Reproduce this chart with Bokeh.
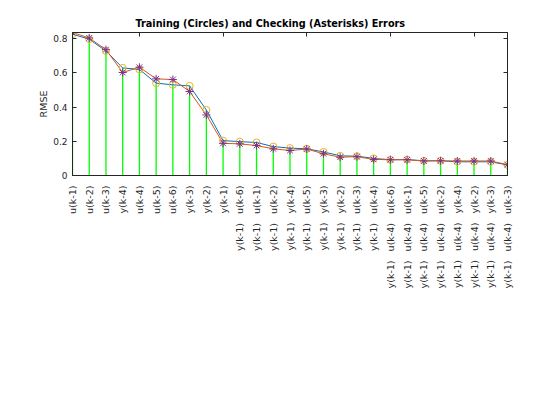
import math
from bokeh.plotting import figure
from bokeh.models import Range1d, LinearAxis, FixedTicker, Title
from bokeh.embed import file_html
from bokeh.resources import INLINE

# ---- data ----
labels = [
    "u(k-1)", "u(k-2)", "u(k-3)", "y(k-4)", "u(k-4)", "u(k-5)", "u(k-6)",
    "y(k-3)", "y(k-2)", "y(k-1)",
    "y(k-1) u(k-6)", "y(k-1) u(k-1)", "y(k-1) u(k-2)", "y(k-1) y(k-4)",
    "y(k-1) u(k-5)", "y(k-1) y(k-3)", "y(k-1) y(k-2)", "y(k-1) u(k-3)",
    "y(k-1) u(k-4)",
    "y(k-1) u(k-4) u(k-6)", "y(k-1) u(k-4) u(k-1)", "y(k-1) u(k-4) u(k-5)",
    "y(k-1) u(k-4) u(k-2)", "y(k-1) u(k-4) y(k-4)", "y(k-1) u(k-4) y(k-2)",
    "y(k-1) u(k-4) y(k-3)", "y(k-1) u(k-4) u(k-3)",
]
trn_error = [0.826, 0.797, 0.728, 0.629, 0.620, 0.540, 0.530, 0.524, 0.383,
             0.204, 0.198, 0.193, 0.169, 0.160, 0.156, 0.138, 0.115, 0.113,
             0.100, 0.092, 0.093, 0.086, 0.086, 0.080, 0.080, 0.080, 0.062]
chk_error = [0.836, 0.804, 0.736, 0.602, 0.633, 0.565, 0.561, 0.491, 0.354,
             0.188, 0.185, 0.175, 0.156, 0.146, 0.155, 0.127, 0.107, 0.110,
             0.094, 0.092, 0.092, 0.085, 0.086, 0.085, 0.085, 0.085, 0.063]
y_ticks = [0, 0.2, 0.4, 0.6, 0.8]
top_ticks = [5, 10, 15, 20, 25]

idx = list(range(1, len(labels) + 1))
GAP = "\u00a0" * 3
overrides = {i: lab.replace(" ", GAP) for i, lab in zip(idx, labels)}

AX = "#262626"
FONT = "DejaVu Sans"

p = figure(width=552, height=412, output_backend="svg", toolbar_location=None,
           x_range=Range1d(1, len(labels)), y_range=Range1d(0, 0.836),
           frame_width=435, frame_height=143,
           min_border_left=72, min_border_right=45, min_border_top=32,
           min_border_bottom=237, x_axis_type=None, y_axis_type=None)
p.grid.visible = False
p.outline_line_color = AX
p.outline_line_width = 1
p.background_fill_color = "white"
p.border_fill_color = "white"

# axes
xb = LinearAxis(ticker=FixedTicker(ticks=idx), major_label_overrides=overrides)
xb.major_label_orientation = math.pi / 2
xb.major_tick_line_color = None
xb.minor_tick_line_color = None
xb.axis_line_color = AX
xb.major_label_text_font = FONT
xb.major_label_text_font_size = "9.5px"
xb.major_label_text_color = AX
xb.major_label_standoff = 4
p.add_layout(xb, "below")

yl = LinearAxis(ticker=FixedTicker(ticks=y_ticks),
                major_label_overrides={0: "0"})
yl.axis_label = "RMSE"
yl.axis_label_text_font = FONT
yl.axis_label_text_font_size = "9.5px"
yl.axis_label_text_font_style = "normal"
yl.axis_label_text_color = AX
yl.axis_label_standoff = 1
yl.major_tick_in = 4
yl.major_tick_out = 0
yl.minor_tick_line_color = None
yl.axis_line_color = AX
yl.major_tick_line_color = AX
yl.major_label_text_font = FONT
yl.major_label_text_font_size = "9px"
yl.major_label_text_color = AX
yl.major_label_standoff = 5
p.add_layout(yl, "left")

yr = LinearAxis(ticker=FixedTicker(ticks=y_ticks))
yr.major_label_text_font_size = "0px"
yr.major_label_text_color = None
yr.major_tick_in = 4
yr.major_tick_out = 0
yr.minor_tick_line_color = None
yr.axis_line_color = AX
yr.major_tick_line_color = AX
yr.major_label_standoff = 0
p.add_layout(yr, "right")

xt = LinearAxis(ticker=FixedTicker(ticks=top_ticks))
xt.major_label_text_font_size = "0px"
xt.major_label_text_color = None
xt.major_tick_in = 4
xt.major_tick_out = 0
xt.minor_tick_line_color = None
xt.axis_line_color = AX
xt.major_tick_line_color = AX
xt.major_label_standoff = 0
p.add_layout(xt, "above")

p.add_layout(Title(text="Training (Circles) and Checking (Asterisks) Errors",
                   text_font=FONT, text_font_size="9.7px",
                   text_font_style="bold", text_color="black",
                   align="left", offset=63, standoff=7), "above")

# stems
p.segment(x0=idx, y0=[0] * len(idx), x1=idx, y1=trn_error,
          line_color="#00ff00", line_width=1.3)
# lines
p.line(idx, trn_error, line_color="#0072BD", line_width=1)
p.line(idx, chk_error, line_color="#D95319", line_width=1)
# markers
p.scatter(idx, trn_error, marker="circle", size=7, fill_color=None,
          line_color="#EDB120", line_width=1)
p.scatter(idx, chk_error, marker="asterisk", size=8,
          line_color="#7E2F8E", line_width=1)

open("out.html", "w").write(file_html(p, INLINE))
